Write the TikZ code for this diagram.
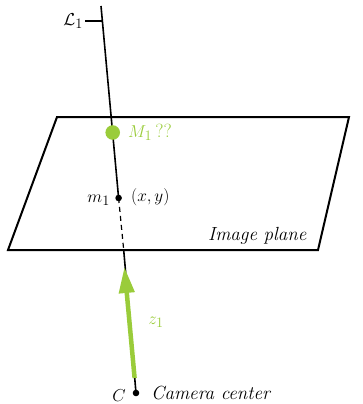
\documentclass[tikz,border=0pt]{standalone}
\usepackage{amsmath,amssymb}
\usepackage{tikz}
\usetikzlibrary{arrows.meta}
\definecolor{ptgreen}{RGB}{154,204,58}

\begin{document}
\begin{tikzpicture}[x=1pt,y=-1pt,font=\fontsize{19}{22}\selectfont\itshape]
    \useasboundingbox (0,0) rectangle (363,404);

    % image plane
    \draw[line width=2pt] (57,117) -- (349,117) -- (318,250) -- (8,250) -- cycle;
    \node[anchor=east] (plane) at (310,236) {Image plane};

    % ray through the camera center
    \coordinate (top) at (101,6);
    \coordinate (m) at (118.6,198);
    \coordinate (pb) at (123.7,250);
    \coordinate (C) at (136,393);
    \draw[line width=1.6pt] (top) -- (m);
    \draw[line width=1.2pt, dash pattern=on 5pt off 4pt] (m) -- (pb);
    \draw[line width=1.6pt] (pb) -- (C);

    \coordinate (tick) at (85,21);
    \draw[line width=1.2pt] (tick) -- (101.7,21);
    \node[anchor=east, inner sep=2pt] (L) at (tick) {$\mathcal{L}_1$};

    % points
    \fill[ptgreen] (112.7,132.5) circle (7.3pt);
    \node[anchor=west, text=ptgreen, inner sep=0pt] (M) at (128,132) {$M_1$\,\upshape??};

    \fill (m) circle (3.3pt);
    \node[anchor=east, inner sep=0pt] (mlab) at (110,200) {$m_1$};
    \node[anchor=west, inner sep=0pt] (xy) at (131,197) {$(x,y)$};

    % viewing direction
    \coordinate (zs) at (134.6,378);
    \coordinate (ze) at (124.4,267);
    \draw[ptgreen, line width=4.5pt, -{Triangle[length=26pt,width=15pt]}] (zs) -- (ze);
    \node[text=ptgreen] (z) at (156,322) {$z_1$};

    \fill (C) circle (3.3pt);
    \node[anchor=east, inner sep=0pt] (Clab) at (126,396) {$C$};
    \node[anchor=west, inner sep=0pt] (cam) at (151,393) {Camera center};

\end{tikzpicture}
\end{document}
